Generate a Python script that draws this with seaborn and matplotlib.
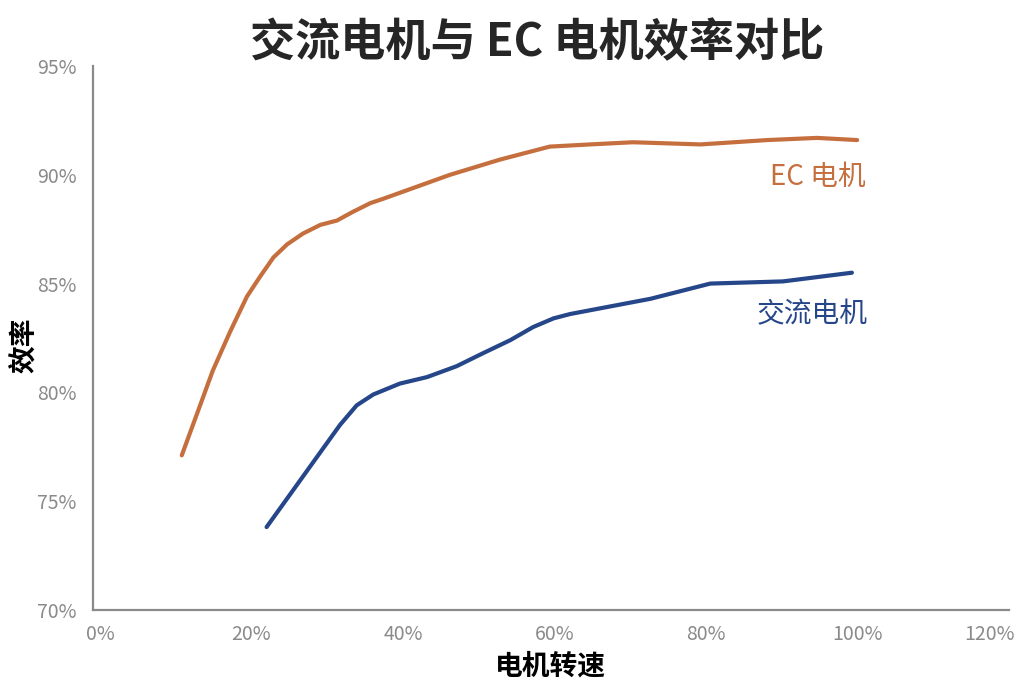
import pandas as pd
import seaborn as sns
import matplotlib.pyplot as plt
import matplotlib.transforms as mtransforms
from matplotlib.ticker import PercentFormatter

# speed (fraction of rated) and efficiency
ec_speed = [0.108, 0.128, 0.149, 0.172, 0.194, 0.211, 0.229, 0.247, 0.268, 0.291,
            0.313, 0.334, 0.357, 0.374, 0.462, 0.528, 0.561, 0.594, 0.647, 0.704,
            0.793, 0.881, 0.947, 1.00]
ec_eff = [0.771, 0.790, 0.810, 0.828, 0.844, 0.853, 0.862, 0.868, 0.873, 0.877,
          0.879, 0.883, 0.887, 0.889, 0.900, 0.907, 0.910, 0.913, 0.914, 0.915,
          0.914, 0.916, 0.917, 0.916]

ac_speed = [0.220, 0.251, 0.286, 0.317, 0.339, 0.361, 0.396, 0.432, 0.471, 0.506,
            0.542, 0.572, 0.599, 0.621, 0.727, 0.806, 0.902, 0.993]
ac_eff = [0.738, 0.753, 0.770, 0.785, 0.794, 0.799, 0.804, 0.807, 0.812, 0.818,
          0.824, 0.830, 0.834, 0.836, 0.843, 0.850, 0.851, 0.855]

x_ticks = [0, 0.2, 0.4, 0.6, 0.8, 1.0, 1.2]
y_ticks = [0.70, 0.75, 0.80, 0.85, 0.90, 0.95]

orange = '#C66F3E'
navy = '#26468A'
grey = '#8A8A8A'

sns.set_style('white')
plt.rcParams['font.family'] = ['Noto Sans CJK SC', 'DejaVu Sans']

df = pd.concat([
    pd.DataFrame({'speed': ec_speed, 'eff': ec_eff, 'motor': 'EC 电机'}),
    pd.DataFrame({'speed': ac_speed, 'eff': ac_eff, 'motor': '交流电机'}),
])

fig = plt.figure(figsize=(10.24, 6.82), dpi=100)
ax = fig.add_axes([0.091, 0.106, 0.894, 0.797])

sns.lineplot(data=df, x='speed', y='eff', hue='motor',
             palette={'EC 电机': orange, '交流电机': navy},
             linewidth=3, legend=False, ax=ax)
for line in ax.lines:
    line.set_solid_joinstyle('round')
    line.set_solid_capstyle('round')

ax.set_xlim(-0.009, 1.2)
ax.set_ylim(0.70, 0.95)
ax.set_xticks(x_ticks)
ax.set_yticks(y_ticks)
ax.xaxis.set_major_formatter(PercentFormatter(1.0, decimals=0))
ax.yaxis.set_major_formatter(PercentFormatter(1.0, decimals=0))
ax.tick_params(axis='both', length=0, labelsize=14, labelcolor=grey)
ax.tick_params(axis='y', pad=12)
ax.tick_params(axis='x', pad=10)

# nudge the last x label so it stays inside the picture
last = ax.get_xticklabels()[-1]
shift = mtransforms.ScaledTranslation(-14 / 72, 0, fig.dpi_scale_trans)
last.set_transform(last.get_transform() + shift)

sns.despine(ax=ax)
for side in ['left', 'bottom']:
    ax.spines[side].set_color(grey)
    ax.spines[side].set_linewidth(1.6)

ax.text(0.948, 0.899, 'EC 电机', color=orange, fontsize=20,
        ha='center', va='center')
ax.text(0.941, 0.836, '交流电机', color=navy, fontsize=20,
        ha='center', va='center')

ax.set_xlabel('电机转速', fontsize=20, fontweight='bold', color='black', labelpad=6)
ax.set_ylabel('')
fig.text(0.025, 0.494, '效率', rotation=90, fontsize=20, fontweight='bold',
         color='black', ha='center', va='center')

fig.suptitle('交流电机与 EC 电机效率对比', fontsize=32.5, fontweight='bold',
             x=0.525, y=0.970, va='top')

fig.savefig('out.png', dpi=100)
